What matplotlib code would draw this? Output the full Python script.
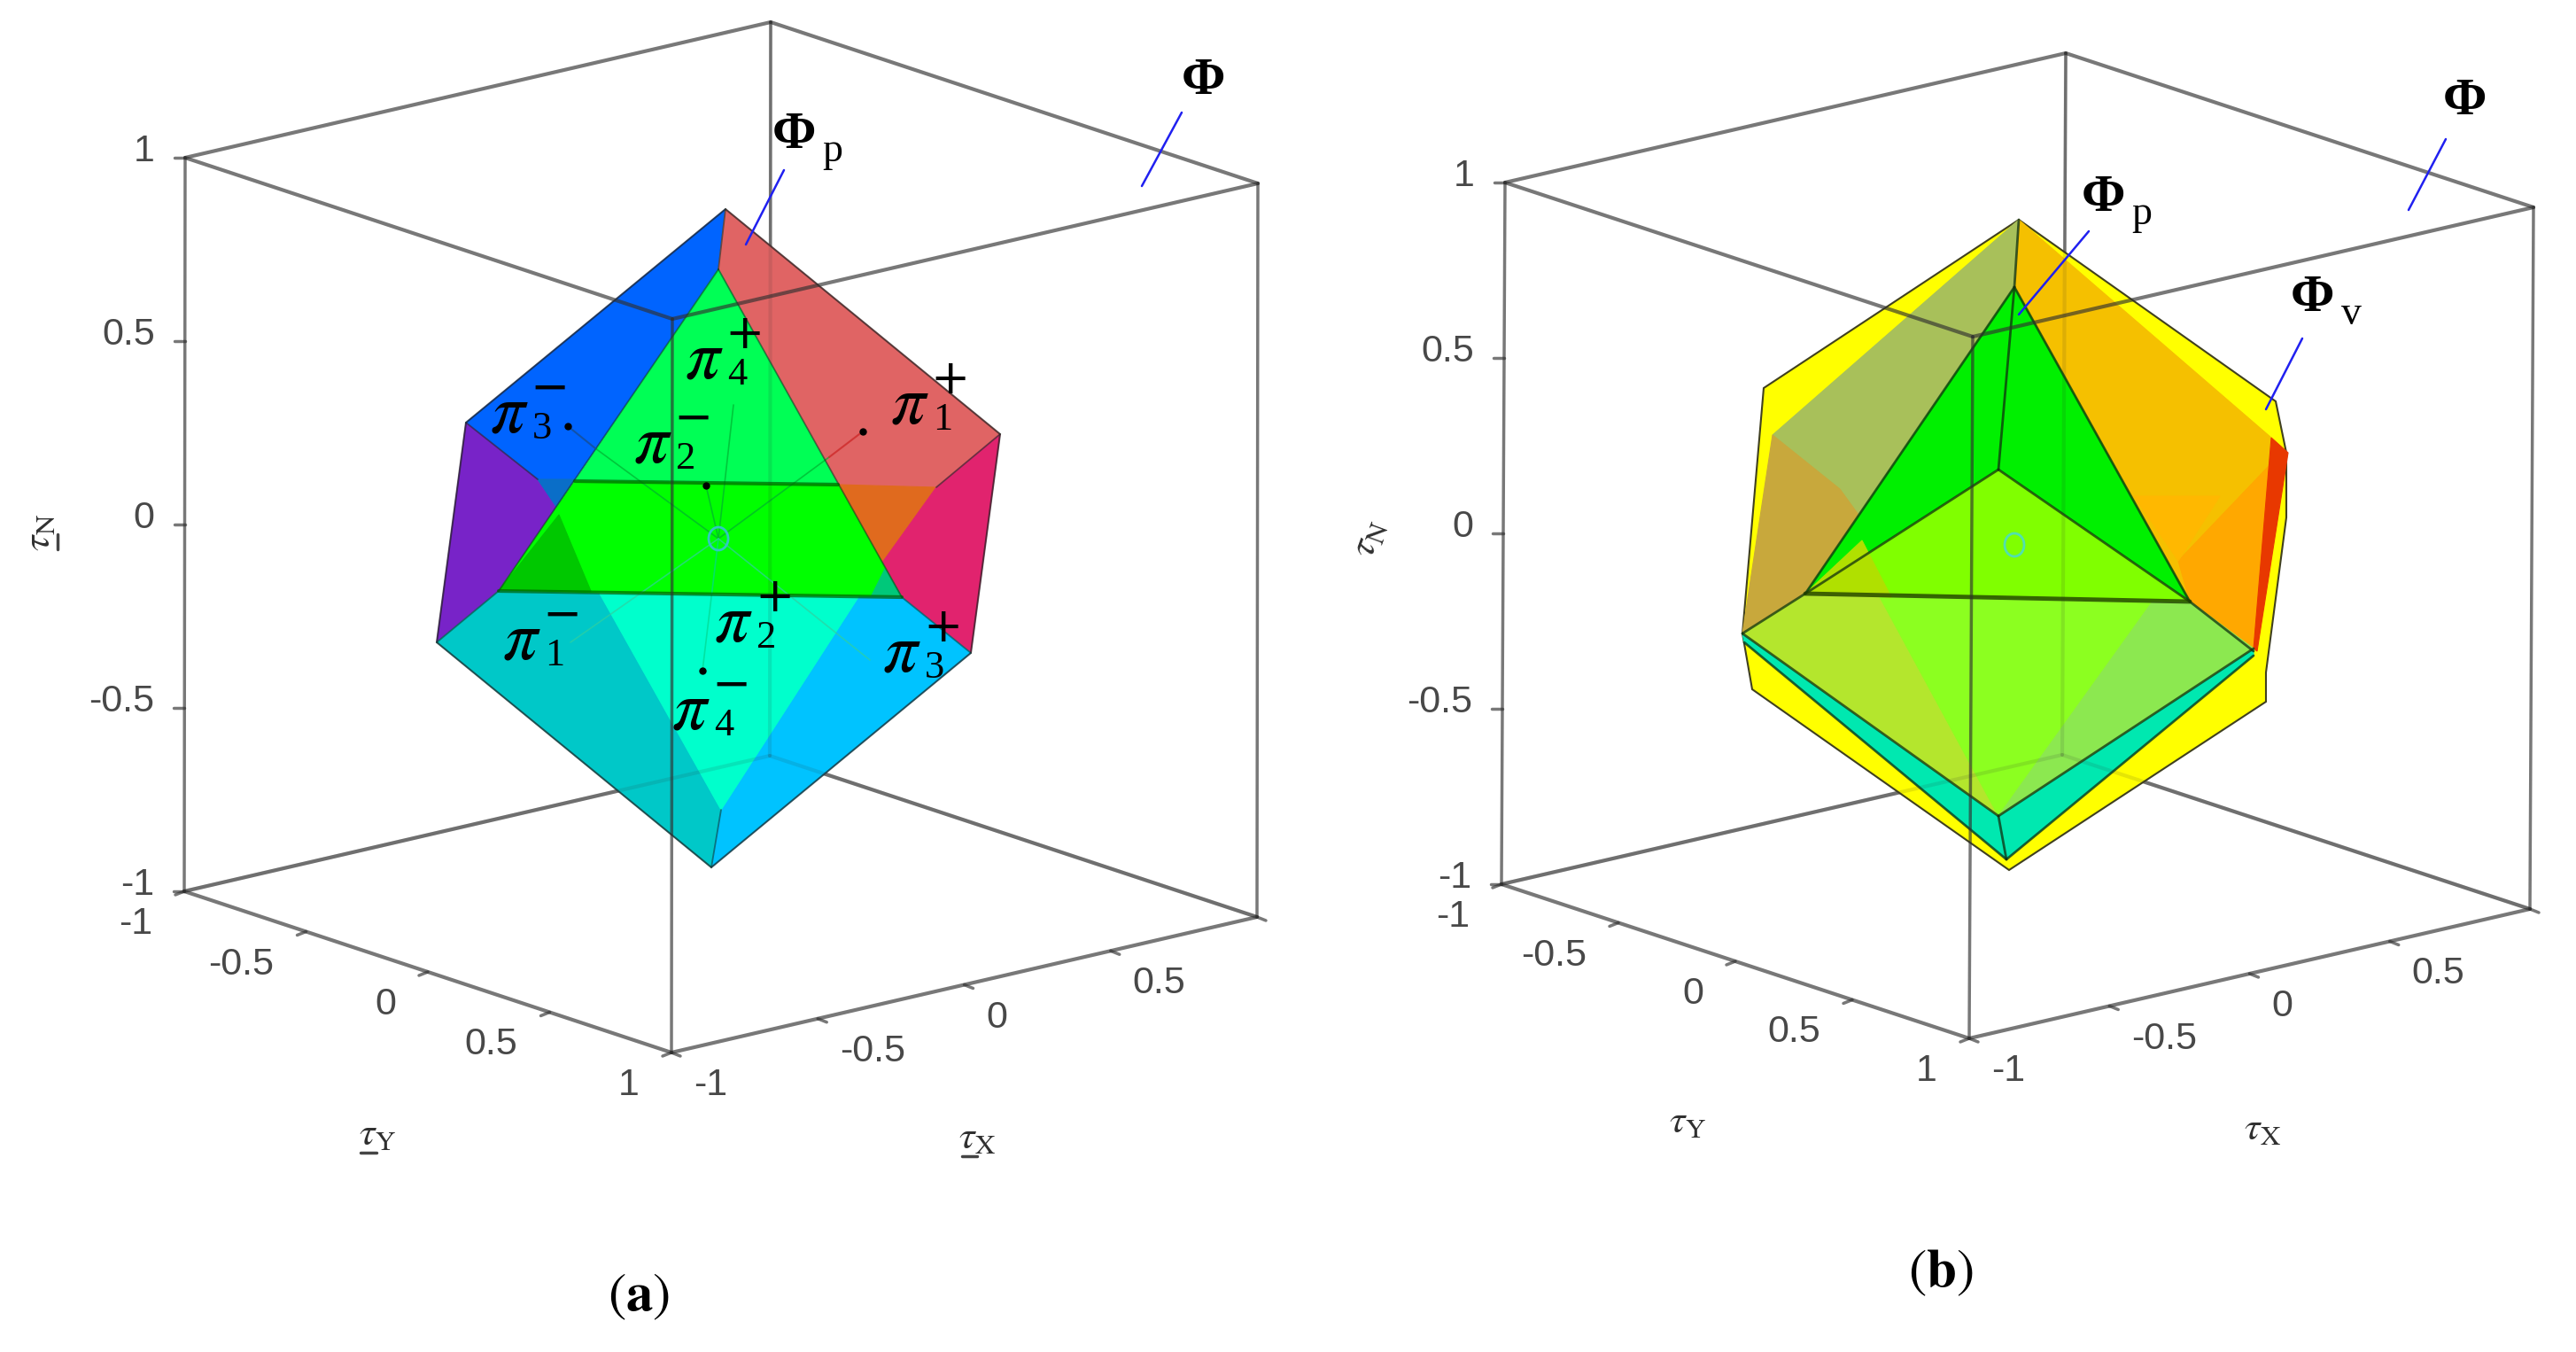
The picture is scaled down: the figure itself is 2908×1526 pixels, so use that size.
import numpy as np
import matplotlib
matplotlib.use('Agg')
import matplotlib.pyplot as plt
from matplotlib.patches import Polygon, Ellipse

plt.rcParams['font.family'] = ['Liberation Sans', 'DejaVu Sans']
plt.rcParams['mathtext.fontset'] = 'stix'

WIDTH = 2908
HEIGHT = 1526

# tick values shared by the axes of both cubes
tickValues = [-1, -0.5, 0, 0.5, 1]
tickLabels = ['-1', '-0.5', '0', '0.5', '1']

# cube corners in picture pixels: (X=-1,Y=1,N=-1), X=1, Y=-1, N=1
cubeA = {'front': (758, 1188), 'right': (1419, 1035), 'left': (208, 1006), 'up': (759, 360)}
cubeB = {'front': (2223, 1172), 'right': (2856, 1026), 'left': (1695, 998), 'up': (2227, 380)}

# panel (a) faces, in picture pixels
facesA = [
    [(819, 236), (526, 477), (607, 541), (649, 541), (811, 304)],
    [(526, 477), (607, 541), (628, 572), (563, 667), (493, 725)],
    [(607, 541), (649, 541), (628, 572)],
    [(819, 236), (811, 304), (946, 547), (1057, 550), (1129, 490)],
    [(946, 547), (1057, 550), (996, 635)],
    [(1129, 490), (1057, 550), (996, 635), (1018, 674), (1096, 737)],
    [(811, 304), (649, 543), (946, 547)],
    [(649, 543), (946, 547), (1018, 674), (563, 667)],
    [(631, 581), (563, 667), (667, 667)],
    [(999, 642), (1018, 674), (983, 674)],
    [(563, 667), (493, 725), (803, 979), (814, 914), (677, 670)],
    [(1018, 674), (1096, 737), (803, 979), (814, 914), (969, 674)],
    [(677, 670), (969, 674), (814, 914)],
]
colorsA = ['#0064FF', '#7823C8', '#0A6EC8', '#E06464', '#E06A1E', '#E1236E',
           '#00FF55', '#00FF00', '#00C800', '#00C87A',
           '#00C8C8', '#00C3FF', '#00FFCC']
hullA = [(819, 236), (526, 477), (493, 725), (803, 979), (1096, 737), (1129, 490)]
ridgesA = [[(811, 304), (563, 667)], [(811, 304), (1018, 674)], [(819, 236), (811, 304)],
           [(526, 477), (607, 541)], [(1129, 490), (1057, 550)], [(493, 725), (563, 667)],
           [(1096, 737), (1018, 674)], [(814, 914), (803, 979)]]
seamsA = [[(563, 667), (1018, 674)], [(649, 543), (946, 547)]]
# thin lines from the centre to the label dots and across the middle
spokesA = [[(811, 608), (828, 457)], [(811, 608), (797, 548)], [(811, 608), (793, 757)],
           [(811, 608), (672, 506)], [(811, 608), (936, 516)], [(811, 608), (644, 725)],
           [(811, 608), (982, 745)]]
spokeColors = ['#00B030', '#00B030', '#00D890', '#00B030', '#00B030', '#30D0A0', '#30D0A0']
stubsA = [[(672, 506), (641, 481)], [(936, 516), (974, 487)]]
stubColors = ['#1450A0', '#D03030']
dotsA = [(641, 481), (974, 487), (797, 548), (793, 757)]
piLabels = [(795, 406, '4', '+'), (575, 467, '3', '\u2212'), (737, 501, '2', '\u2212'),
            (1027, 457, '1', '+'), (589, 723, '1', '\u2212'), (828, 703, '2', '+'),
            (1018, 737, '3', '+'), (780, 802, '4', '\u2212')]

# panel (b) faces, in picture pixels
hullB = [(2279, 248), (1991, 438), (1967, 715), (1978, 778), (2268, 982), (2558, 792),
         (2558, 759), (2581, 584), (2581, 511), (2569, 453)]
facesB = [
    [(2279, 248), (2564, 494), (2544, 735), (2472, 679), (2274, 324)],
    [(2564, 523), (2459, 633), (2472, 679), (2544, 735)],
    [(2409, 560), (2506, 560), (2459, 633)],
    [(2279, 248), (2001, 491), (2077, 552), (2098, 581), (2038, 670), (2274, 324)],
    [(2001, 491), (2077, 552), (2098, 581), (2038, 670), (1967, 715)],
    [(2564, 494), (2583, 511), (2548, 735), (2544, 732)],
    [(1967, 715), (1969, 725), (2265, 970), (2544, 740), (2544, 732), (2256, 921)],
    [(2038, 670), (1967, 715), (2256, 921), (2121, 672)],
    [(2121, 672), (2256, 921), (2432, 676)],
    [(2432, 676), (2256, 921), (2544, 732), (2472, 679)],
    [(2274, 324), (2038, 670), (2256, 530)],
    [(2274, 324), (2256, 530), (2472, 679)],
    [(2256, 530), (2038, 670), (2472, 679)],
    [(2038, 670), (2135, 674), (2102, 610)],
]
colorsB = ['#F5C000', '#FFA800', '#FFB800', '#A8C05A', '#C8A83C', '#E83800', '#00E8B0',
           '#B4E62D', '#8CFF20', '#8CE850', '#00F000', '#00F000', '#80FF00', '#B0E000']
ridgesB = [[(2274, 324), (2038, 670)], [(2274, 324), (2472, 679)], [(2274, 324), (2256, 530)],
           [(2256, 530), (2038, 670)], [(2256, 530), (2472, 679)], [(2279, 248), (2274, 324)],
           [(2038, 670), (1967, 715)], [(2472, 679), (2544, 735)],
           [(1967, 715), (2256, 921)], [(2544, 732), (2256, 921)],
           [(1969, 725), (2265, 970)], [(2544, 740), (2265, 970)], [(2256, 921), (2265, 970)]]
seamsB = [[(2038, 670), (2472, 679)]]

# callouts: text anchor and leader line
leadersA = [[(1334, 127), (1289, 210)], [(885, 192), (842, 276)]]
leadersB = [[(2761, 157), (2719, 237)], [(2358, 261), (2279, 355)], [(2599, 382), (2558, 462)]]
phiLabels = [(1358, 92, ''), (896, 153, 'p'), (2782, 115, ''), (2374, 224, 'p'), (2610, 337, 'v')]

# small bars that sit under the tau of panel a
tauBars = [[(407, 1301), (425, 1301)], [(1086, 1305), (1103, 1305)], [(65, 603), (65, 620)]]

BoxColor = '#303030'
FontTick = 31


def drawLine(p1, p2, color=BoxColor, linewidth=3, alpha=0.65, zorder=2):
    ax.plot([p1[0], p2[0]], [p1[1], p2[1]], color=color, linewidth=linewidth, alpha=alpha,
            zorder=zorder, solid_capstyle='round')


def project(cube, tx, ty, tn):
    # the cube is drawn as an affine picture of tau space
    f = np.array(cube['front'], float)
    ex = (np.array(cube['right']) - f) / 2
    ey = (f - np.array(cube['left'])) / 2
    ez = (np.array(cube['up']) - f) / 2
    return f + ex * (tx + 1) + ey * (ty - 1) + ez * (tn + 1)


def drawCubeBack(cube):
    backLow = project(cube, 1, -1, -1)
    backTop = project(cube, 1, -1, 1)
    left = project(cube, -1, -1, -1)
    right = project(cube, 1, 1, -1)
    front = project(cube, -1, 1, -1)
    leftTop = project(cube, -1, -1, 1)
    rightTop = project(cube, 1, 1, 1)
    # the edges that pass behind the solid
    drawLine(left, backLow, zorder=1)
    drawLine(right, backLow, zorder=1)
    drawLine(backTop, backLow, zorder=1, linewidth=2.5)
    drawLine(backTop, leftTop, zorder=1)
    drawLine(backTop, rightTop, zorder=1)
    drawLine(left, front, zorder=1)
    drawLine(right, front, zorder=1)
    drawLine(left, leftTop, zorder=1, linewidth=2.5)
    drawLine(right, rightTop, zorder=1, linewidth=2.5)
    # faint again over the solid, the faces are a bit see through
    drawLine(left, backLow, alpha=0.12, zorder=6)
    drawLine(right, backLow, alpha=0.12, zorder=6)
    drawLine(backTop, backLow, alpha=0.12, zorder=6)


def drawCubeFront(cube):
    frontTop = project(cube, -1, 1, 1)
    drawLine(project(cube, -1, -1, 1), frontTop, zorder=7)
    drawLine(project(cube, 1, 1, 1), frontTop, zorder=7)
    drawLine(project(cube, -1, 1, -1), frontTop, zorder=7, linewidth=2.5)


def drawTicks(cube):
    for v, s in zip(tickValues, tickLabels):
        px = project(cube, v, 1, -1)
        # the last X label is not shown in the figure
        if v < 1:
            ax.text(px[0] + 25, px[1] + 37, s, fontsize=FontTick, color='#484848', ha='left', va='center', zorder=8)
        drawLine(px, px + np.array([10, 4]), linewidth=2.5, zorder=2)
        py = project(cube, -1, v, -1)
        ax.text(py[0] - 36, py[1] + 37, s, fontsize=FontTick, color='#484848', ha='right', va='center', zorder=8)
        drawLine(py, py + np.array([-10, 4]), linewidth=2.5, zorder=2)
        pz = project(cube, -1, -1, v)
        ax.text(pz[0] - 34, pz[1] - 7, s, fontsize=FontTick, color='#484848', ha='right', va='center', zorder=8)
        drawLine(pz, pz + np.array([-12, 0]), linewidth=2.5, zorder=2)


def drawFaces(faces, colors):
    for face, c in zip(faces, colors):
        ax.add_patch(Polygon(face, closed=True, facecolor=c, edgecolor=c, linewidth=0.8, zorder=3))


def drawPi(x, y, sub, sign):
    ax.text(x, y, '$\\pi$', fontsize=56, ha='center', va='center', zorder=9)
    ax.text(x + 37, y + 17, sub, fontsize=32, family='Liberation Serif', ha='center', va='center', zorder=9)
    ax.text(x + 46, y - 28, sign, fontsize=38, family='DejaVu Sans', ha='center', va='center', zorder=9)


def drawPhi(x, y, sub):
    ax.text(x, y, '\u03a6', fontsize=43, family='Liberation Serif', fontweight='bold',
            ha='center', va='center', zorder=9)
    if sub:
        ax.text(x + 44, y + 18, sub, fontsize=33, family='Liberation Serif', ha='center', va='center', zorder=9)


fig = plt.figure(figsize=(WIDTH / 100, HEIGHT / 100), dpi=100)
ax = fig.add_axes([0, 0, 1, 1])
ax.set_xlim(0, WIDTH)
ax.set_ylim(HEIGHT, 0)
ax.axis('off')

# panel a
drawCubeBack(cubeA)
drawFaces(facesA, colorsA)
ax.add_patch(Polygon(hullA, closed=True, fill=False, edgecolor='#202020', linewidth=1.5, alpha=0.7, zorder=5))
for r in ridgesA:
    drawLine(r[0], r[1], color='#103020', linewidth=1.3, alpha=0.55, zorder=5)
for s in seamsA:
    drawLine(s[0], s[1], color='#006000', linewidth=3, alpha=0.7, zorder=5)
for sp, c in zip(spokesA, spokeColors):
    drawLine(sp[0], sp[1], color=c, linewidth=1.2, alpha=0.7, zorder=4)
for st, c in zip(stubsA, stubColors):
    drawLine(st[0], st[1], color=c, linewidth=1.5, alpha=0.9, zorder=5)
for d in dotsA:
    ax.plot(d[0], d[1], 'o', color='black', markersize=5, zorder=9)
ax.add_patch(Ellipse((811, 608), 22, 26, fill=False, edgecolor='#30C8C0', linewidth=2, zorder=6))
drawCubeFront(cubeA)
drawTicks(cubeA)
for lab in piLabels:
    drawPi(*lab)

# panel b
drawCubeBack(cubeB)
ax.add_patch(Polygon(hullB, closed=True, facecolor='#FFFF00', edgecolor='#404020', linewidth=1.5, zorder=3))
drawFaces(facesB, colorsB)
for r in ridgesB:
    drawLine(r[0], r[1], color='#103010', linewidth=2, alpha=0.75, zorder=5)
for s in seamsB:
    drawLine(s[0], s[1], color='#204000', linewidth=3.5, alpha=0.8, zorder=5)
ax.add_patch(Ellipse((2274, 615), 22, 26, fill=False, edgecolor='#50E0B0', linewidth=2, zorder=6))
drawCubeFront(cubeB)
drawTicks(cubeB)

# callouts
for l in leadersA + leadersB:
    drawLine(l[0], l[1], color='#2020F0', linewidth=1.8, alpha=1, zorder=9)
for lab in phiLabels:
    drawPhi(*lab)

# axis names
ax.text(45, 601, '$\\tau_{\\mathrm{N}}$', fontsize=32, color='#303030', rotation=90, ha='center', va='center', zorder=8)
ax.text(426, 1280, '$\\tau_{\\mathrm{Y}}$', fontsize=32, color='#303030', ha='center', va='center', zorder=8)
ax.text(1103, 1284, '$\\tau_{\\mathrm{X}}$', fontsize=32, color='#303030', ha='center', va='center', zorder=8)
ax.text(1545, 608, '$\\tau_{\\mathrm{N}}$', fontsize=32, color='#303030', rotation=70, ha='center', va='center', zorder=8)
ax.text(1905, 1267, '$\\tau_{\\mathrm{Y}}$', fontsize=32, color='#303030', ha='center', va='center', zorder=8)
ax.text(2554, 1274, '$\\tau_{\\mathrm{X}}$', fontsize=32, color='#303030', ha='center', va='center', zorder=8)
for b in tauBars:
    drawLine(b[0], b[1], color='#303030', linewidth=2.5, alpha=0.9, zorder=8)

# captions
ax.text(721, 1464, '$\\mathrm{(}\\mathbf{a}\\mathrm{)}$', fontsize=44, ha='center', va='center')
ax.text(2191, 1437, '$\\mathrm{(}\\mathbf{b}\\mathrm{)}$', fontsize=44, ha='center', va='center')

fig.savefig('out.png', dpi=100)
